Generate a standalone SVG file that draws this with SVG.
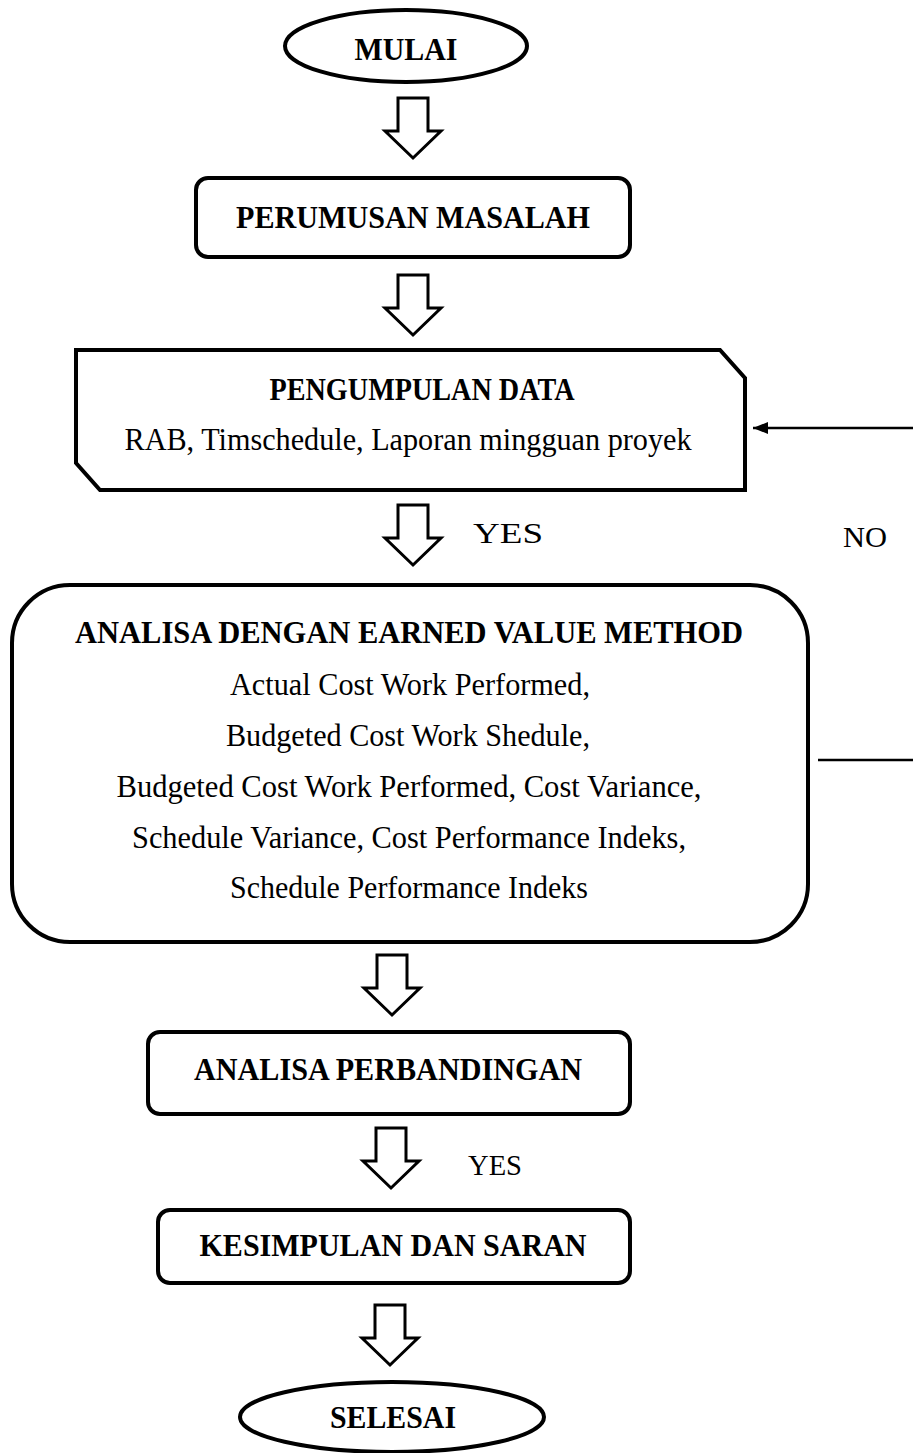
<svg xmlns="http://www.w3.org/2000/svg" width="913" height="1453" viewBox="0 0 913 1453">
<style>
.box{fill:#fff;stroke:#000;stroke-width:4}
.blk{fill:#fff;stroke:#000;stroke-width:3;stroke-linejoin:miter}
.b{font-family:"Liberation Serif","Times New Roman",serif;font-weight:bold;font-size:32px;fill:#000;text-anchor:middle}
.r{font-family:"Liberation Serif","Times New Roman",serif;font-size:31px;fill:#000;text-anchor:middle}
.l{font-family:"Liberation Serif","Times New Roman",serif;font-size:29px;fill:#000}
.ln{stroke:#000;stroke-width:2.5;fill:none}
</style>
<defs>
<path id="blk" d="M-15,0 H15 V33 H28 L0,60 L-28,33 H-15 Z"/>
<marker id="ah" markerWidth="16" markerHeight="12" refX="15" refY="6" orient="auto" markerUnits="userSpaceOnUse">
<path d="M0,0 L15,6 L0,12 Z" fill="#000"/>
</marker>
</defs>
<rect width="913" height="1453" fill="#fff"/>
<g id="connectors">
<use href="#blk" class="blk" transform="translate(413,98)"/>
<use href="#blk" class="blk" transform="translate(413,275)"/>
<use href="#blk" class="blk" transform="translate(413,505)"/>
<use href="#blk" class="blk" transform="translate(392,955)"/>
<use href="#blk" class="blk" transform="translate(391,1128)"/>
<use href="#blk" class="blk" transform="translate(390,1305)"/>
<line class="ln" x1="913" y1="428" x2="753" y2="428" marker-end="url(#ah)"/>
<line class="ln" x1="818" y1="760" x2="913" y2="760"/>
<text class="l" x="473" y="543" textLength="70" lengthAdjust="spacingAndGlyphs">YES</text>
<text class="l" x="843" y="547" textLength="44" lengthAdjust="spacingAndGlyphs">NO</text>
<text class="l" x="468" y="1175" textLength="54" lengthAdjust="spacingAndGlyphs">YES</text>
</g>
<g id="mulai">
<ellipse class="box" cx="406" cy="46" rx="121" ry="36"/>
<text class="b" x="406" y="60" textLength="103" lengthAdjust="spacingAndGlyphs">MULAI</text>
</g>
<g id="perumusan">
<rect class="box" x="196" y="178" width="434" height="79" rx="12"/>
<text class="b" x="413" y="228" textLength="354" lengthAdjust="spacingAndGlyphs">PERUMUSAN MASALAH</text>
</g>
<g id="pengumpulan">
<path class="box" d="M76,350 H720 L745,378 V490 H100 L76,463 Z"/>
<text class="b" x="422" y="400" textLength="305" lengthAdjust="spacingAndGlyphs">PENGUMPULAN DATA</text>
<text class="r" x="408" y="450" textLength="567" lengthAdjust="spacingAndGlyphs">RAB, Timschedule, Laporan mingguan proyek</text>
</g>
<g id="analisa-evm">
<rect class="box" x="12" y="585" width="796" height="357" rx="58"/>
<text class="b" x="409" y="643" textLength="668" lengthAdjust="spacingAndGlyphs">ANALISA DENGAN EARNED VALUE METHOD</text>
<text class="r" x="410" y="695" textLength="360" lengthAdjust="spacingAndGlyphs">Actual Cost Work Performed,</text>
<text class="r" x="408" y="746" textLength="364" lengthAdjust="spacingAndGlyphs">Budgeted Cost Work Shedule,</text>
<text class="r" x="409" y="797" textLength="585" lengthAdjust="spacingAndGlyphs">Budgeted Cost Work Performed, Cost Variance,</text>
<text class="r" x="409" y="848" textLength="554" lengthAdjust="spacingAndGlyphs">Schedule Variance, Cost Performance Indeks,</text>
<text class="r" x="409" y="898" textLength="358" lengthAdjust="spacingAndGlyphs">Schedule Performance Indeks</text>
</g>
<g id="perbandingan">
<rect class="box" x="148" y="1032" width="482" height="82" rx="12"/>
<text class="b" x="388" y="1080" textLength="388" lengthAdjust="spacingAndGlyphs">ANALISA PERBANDINGAN</text>
</g>
<g id="kesimpulan">
<rect class="box" x="158" y="1210" width="472" height="73" rx="12"/>
<text class="b" x="393" y="1256" textLength="387" lengthAdjust="spacingAndGlyphs">KESIMPULAN DAN SARAN</text>
</g>
<g id="selesai">
<ellipse class="box" cx="392" cy="1417" rx="152" ry="35"/>
<text class="b" x="393" y="1428" textLength="126" lengthAdjust="spacingAndGlyphs">SELESAI</text>
</g>
</svg>
